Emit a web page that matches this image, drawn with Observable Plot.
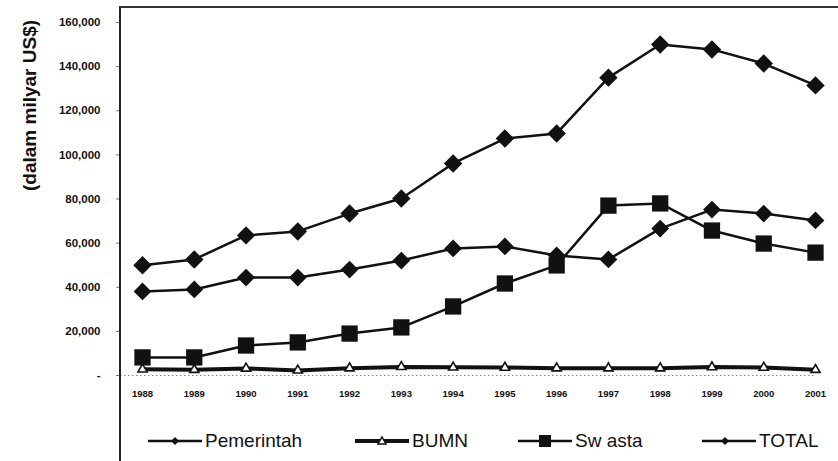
<!DOCTYPE html>
<html>
<head>
<meta charset="utf-8">
<script src="https://cdn.jsdelivr.net/npm/d3@7"></script>
<script src="https://cdn.jsdelivr.net/npm/@observablehq/plot@0.6"></script>
<style>
  html, body { margin: 0; padding: 0; background: #fff; }
  #wrap { position: relative; width: 838px; height: 461px; overflow: hidden; font-family: Arial, "Liberation Sans", sans-serif; }
  #frame { position: absolute; left: 119px; top: 6px; width: 740px; height: 470px; border-left: 2px solid #222; border-top: 2px solid #333; pointer-events: none; }
  .leg { position: absolute; top: 430px; display: flex; align-items: center; font-size: 19px; color: #111; }
  .leg svg { display: block; margin-right: 2px; }
</style>
</head>
<body>
<div id="wrap"></div>
<script>
const years = [1988, 1989, 1990, 1991, 1992, 1993, 1994, 1995, 1996, 1997, 1998, 1999, 2000, 2001];
const pemerintah = [38100, 39000, 44400, 44400, 48000, 52100, 57600, 58500, 54400, 52600, 66600, 75200, 73400, 70300];
const bumn = [2800, 2600, 3200, 2300, 3300, 3900, 3700, 3600, 3300, 3300, 3300, 3800, 3600, 2600];
const swasta = [8200, 8200, 13600, 15000, 19000, 21800, 31300, 41700, 49900, 77000, 78000, 65700, 59800, 55700];
const total = [50000, 52600, 63500, 65300, 73400, 80200, 96100, 107400, 109700, 135000, 150000, 147800, 141400, 131500];
const yTicks = [0, 20000, 40000, 60000, 80000, 100000, 120000, 140000, 160000];
const yTickLabels = ["-", "20,000", "40,000", "60,000", "80,000", "100,000", "120,000", "140,000", "160,000"];
const seriesNames = ["Pemerintah", "BUMN", "Swasta", "TOTAL"];
const yLabel = "(dalam milyar US$)";

const rows = (vals) => years.map((y, i) => ({year: y, value: vals[i]}));
const P = rows(pemerintah), B = rows(bumn), S = rows(swasta), T = rows(total);
const ink = "#111";

const chart = Plot.plot({
  width: 838,
  height: 461,
  marginLeft: 120,
  marginRight: 23,
  marginTop: 22,
  marginBottom: 86,
  style: {fontFamily: "Arial, 'Liberation Sans', sans-serif", background: "transparent", color: ink},
  x: {domain: [years[0], years[years.length - 1]], insetLeft: 22},
  y: {domain: [0, 160000]},
  marks: [
    Plot.ruleY([0], {stroke: "#888", strokeDasharray: "1.5,2.5", strokeWidth: 1}),
    Plot.axisY({ticks: yTicks, tickFormat: (d) => yTickLabels[yTicks.indexOf(d)], tickSize: 4, tickPadding: 16, fontSize: 11.5, fontWeight: "bold", stroke: "#777", label: null}),
    Plot.axisX({ticks: years, tickFormat: (d) => String(d), tickSize: 0, tickPadding: 15, fontSize: 9.5, fontWeight: "bold", label: null}),
    Plot.text([yLabel], {frameAnchor: "top-left", dx: -98, dy: 83, rotate: -90, fontSize: 19, fontWeight: "bold", textAnchor: "middle", fill: ink}),
    Plot.line(B, {x: "year", y: "value", stroke: ink, strokeWidth: 4}),
    Plot.line(S, {x: "year", y: "value", stroke: ink, strokeWidth: 2.5}),
    Plot.line(P, {x: "year", y: "value", stroke: ink, strokeWidth: 2.5}),
    Plot.line(T, {x: "year", y: "value", stroke: ink, strokeWidth: 2.5}),
    Plot.dot(B, {x: "year", y: "value", symbol: "triangle", r: 3.4, fill: "white", stroke: ink, strokeWidth: 1.6}),
    Plot.dot(S, {x: "year", y: "value", symbol: "square", r: 9.2, fill: ink, stroke: "none"}),
    Plot.dot(P, {x: "year", y: "value", symbol: "diamond2", r: 8, fill: ink, stroke: "none"}),
    Plot.dot(T, {x: "year", y: "value", symbol: "diamond2", r: 8.3, fill: ink, stroke: "none"})
  ]
});

const wrap = document.getElementById("wrap");
wrap.appendChild(chart);
const frame = document.createElement("div");
frame.id = "frame";
wrap.appendChild(frame);

// legend
const legendLeft = [148, 355, 518, 702];
const symbolFor = {
  Pemerintah: '<path d="M27,-4 L31,0 L27,4 L23,0 Z" fill="#111"/>',
  BUMN: '<path d="M27,-4 L31,3 L23,3 Z" fill="white" stroke="#111" stroke-width="1.5"/>',
  Swasta: '<rect x="21" y="-6" width="12" height="12" fill="#111"/>',
  TOTAL: '<path d="M23,-4 L27,0 L23,4 L19,0 Z" fill="#111"/>'
};
const lineW = {Pemerintah: 2.5, BUMN: 4, Swasta: 2.5, TOTAL: 2.5};
const labels = {Pemerintah: "Pemerintah", BUMN: "BUMN", Swasta: "Sw asta", TOTAL: "TOTAL"};
seriesNames.forEach((name, i) => {
  const d = document.createElement("div");
  d.className = "leg";
  d.style.left = legendLeft[i] + "px";
  d.innerHTML = `<svg width="55" height="22" viewBox="0 -11 55 22"><line x1="0" y1="0" x2="54" y2="0" stroke="#111" stroke-width="${lineW[name]}"/>${symbolFor[name]}</svg><span style="white-space:pre">${labels[name]}</span>`;
  wrap.appendChild(d);
});
</script>
</body>
</html>
